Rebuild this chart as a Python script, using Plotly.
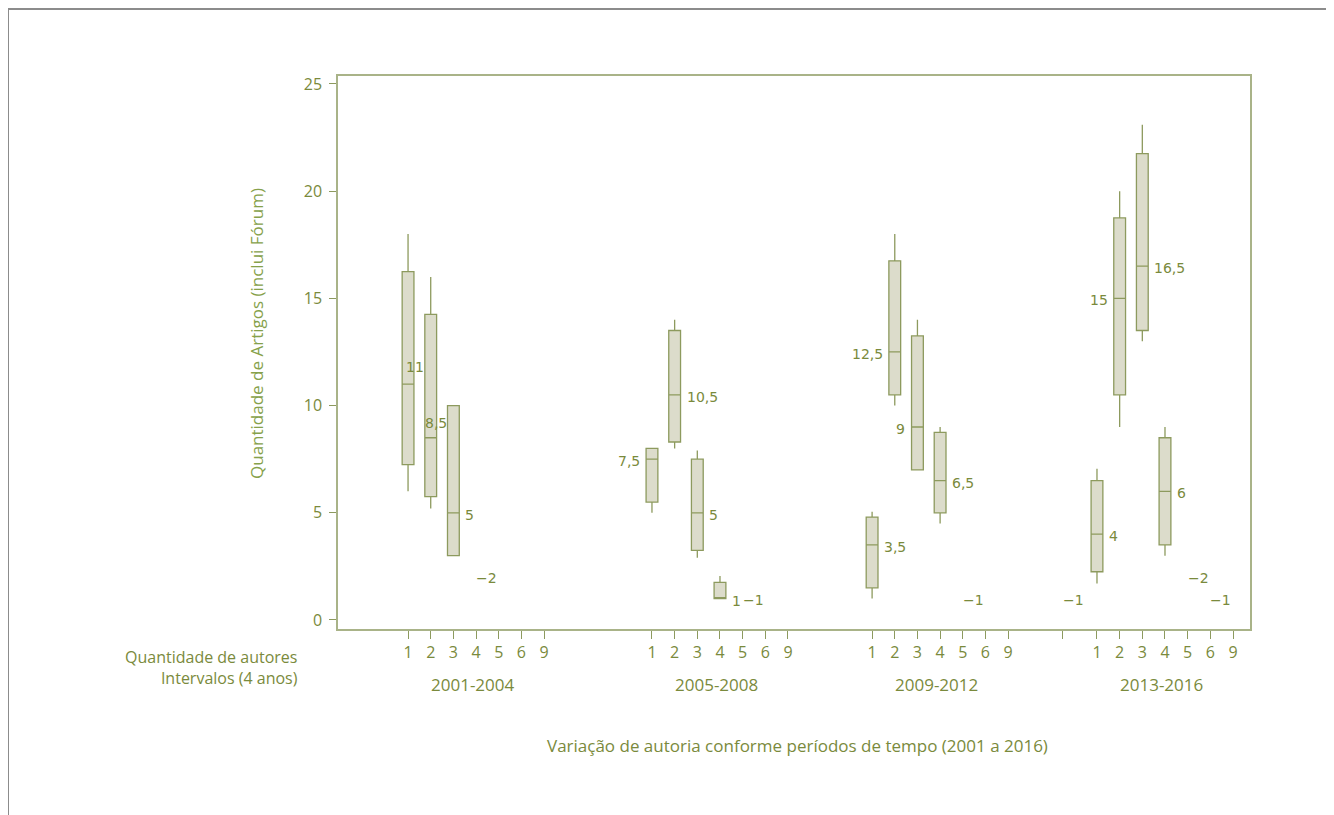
import plotly.graph_objects as go

# ---------------- data ----------------
periods = ["2001-2004", "2005-2008", "2009-2012", "2013-2016"]
autor_ticks = ["1", "2", "3", "4", "5", "6", "9"]

# box statistics per period: autores, lower whisker, q1, median, q3, upper whisker
p1_autores = ["1", "2", "3"]
p1_low = [6, 5.2, 3]
p1_q1 = [7.25, 5.75, 3]
p1_med = [11, 8.5, 5]
p1_q3 = [16.25, 14.25, 10]
p1_high = [18, 16, 10]

p2_autores = ["1", "2", "3", "4"]
p2_low = [5, 8, 2.9, 1]
p2_q1 = [5.5, 8.3, 3.25, 1]
p2_med = [7.5, 10.5, 5, 1]
p2_q3 = [8, 13.5, 7.5, 1.75]
p2_high = [8, 14, 7.9, 2.05]

p3_autores = ["1", "2", "3", "4"]
p3_low = [1, 10, 7, 4.5]
p3_q1 = [1.5, 10.5, 7, 5]
p3_med = [3.5, 12.5, 9, 6.5]
p3_q3 = [4.8, 16.75, 13.25, 8.75]
p3_high = [5.05, 18, 14, 9]

p4_autores = ["1", "2", "3", "4"]
p4_low = [1.7, 9, 13, 3]
p4_q1 = [2.25, 10.5, 13.5, 3.5]
p4_med = [4, 15, 16.5, 6]
p4_q3 = [6.5, 18.75, 21.75, 8.5]
p4_high = [7.05, 20, 23.1, 9]

# single observations (drawn as "−n")
p1_single_autores = ["4"]
p1_single_vals = [2]
p2_single_autores = ["5"]
p2_single_vals = [1]
p3_single_autores = ["5"]
p3_single_vals = [1]
p4_single_autores = ["", "5", "6"]
p4_single_vals = [1, 2, 1]

# label side per box (style)
p1_label_side = ["above", "above2", "right"]
p2_label_side = ["left", "right", "right", "right"]
p3_label_side = ["right", "left", "left", "right"]
p4_label_side = ["right", "left", "right", "right"]

# ---------------- layout constants ----------------
group_starts = [3.09, 13.85, 23.56, 33.48]
X_MAX = 40.23
TXT = "#7a8a3c"
TITLE_GREEN = "#86a14a"
BOX_FILL = "#dcdccb"
BOX_LINE = "#8d9a5e"
AXIS_LINE = "#a9b388"
FONT = "Open Sans"
FS = 17


def slot(label):
    if label == "":
        return -1.5
    return autor_ticks.index(label)


def fmt(v):
    if float(v).is_integer():
        return str(int(v))
    return str(v).replace(".", ",")


groups = [
    (p1_autores, p1_low, p1_q1, p1_med, p1_q3, p1_high, p1_single_autores, p1_single_vals, p1_label_side),
    (p2_autores, p2_low, p2_q1, p2_med, p2_q3, p2_high, p2_single_autores, p2_single_vals, p2_label_side),
    (p3_autores, p3_low, p3_q1, p3_med, p3_q3, p3_high, p3_single_autores, p3_single_vals, p3_label_side),
    (p4_autores, p4_low, p4_q1, p4_med, p4_q3, p4_high, p4_single_autores, p4_single_vals, p4_label_side),
]

fig = go.Figure()
annotations = []
tickvals = []
ticktext = []

for gi, (aut, low, q1, med, q3, high, s_aut, s_val, sides) in enumerate(groups):
    g0 = group_starts[gi]
    xs = [g0 + slot(a) for a in aut]
    fig.add_trace(go.Box(
        x=xs, q1=q1, median=med, q3=q3, lowerfence=low, upperfence=high,
        width=0.52, whiskerwidth=0, boxpoints=False,
        fillcolor=BOX_FILL, line=dict(color=BOX_LINE, width=1.3),
        hoverinfo="skip", showlegend=False,
    ))
    for x, m, side in zip(xs, med, sides):
        a = dict(x=x, y=m, xref="x", yref="y", text=fmt(m), showarrow=False,
                 font=dict(family="DejaVu Sans", size=14, color=TXT))
        if side == "right":
            a.update(xanchor="left", xshift=10, yshift=-2)
        elif side == "left":
            a.update(xanchor="right", xshift=-10, yshift=-2)
        elif side == "above":
            a.update(xanchor="center", xshift=7, yshift=17)
        else:
            a.update(xanchor="center", xshift=5, yshift=15)
        annotations.append(a)
    for a_lab, v in zip(s_aut, s_val):
        annotations.append(dict(x=g0 + slot(a_lab), y=v, xref="x", yref="y",
                                text="\u2212" + fmt(v), showarrow=False,
                                xanchor="left", xshift=-2, yshift=-1,
                                font=dict(family="DejaVu Sans", size=14, color=TXT)))
    # ticks
    if gi == 3:
        tickvals.append(g0 + slot(""))
        ticktext.append("")
    for t in autor_ticks:
        tickvals.append(g0 + slot(t))
        ticktext.append(t)
    # period label
    annotations.append(dict(x=g0 + 2.85, y=(629 - 684) / 553, xref="x", yref="paper",
                            text=periods[gi], showarrow=False, xanchor="center",
                            yanchor="middle",
                            font=dict(family=FONT, size=FS, color=TXT)))

# left labels (two lines, right aligned)
annotations.append(dict(x=(300 - 338) / 912, y=(629 - 667) / 553, xref="paper", yref="paper",
                        text="Quantidade de autores<br>Intervalos (4 anos)", align="right",
                        showarrow=False, xanchor="right", yanchor="middle",
                        font=dict(family=FONT, size=16, color=TXT)))
# axis titles
annotations.append(dict(x=(797 - 338) / 912, y=(629 - 745) / 553, xref="paper", yref="paper",
                        text="Variação de autoria conforme períodos de tempo (2001 a 2016)",
                        showarrow=False, xanchor="center", yanchor="middle",
                        font=dict(family=FONT, size=FS, color=TXT)))
annotations.append(dict(x=(256 - 338) / 912, y=(629 - 334) / 553, xref="paper", yref="paper",
                        text="Quantidade de Artigos (inclui Fórum)", textangle=-90,
                        showarrow=False, xanchor="center", yanchor="middle",
                        font=dict(family=FONT, size=FS, color=TITLE_GREEN)))

# figure border (coords relative to plot area in page pixels)
shapes = [
    dict(type="line", xref="paper", yref="paper", x0=(8 - 338) / 912, x1=(8 - 338) / 912,
         y0=(629 - 9) / 553, y1=(629 - 815) / 553, line=dict(color="#8c8c8c", width=2)),
    dict(type="line", xref="paper", yref="paper", x0=(8 - 338) / 912, x1=(1334 - 338) / 912,
         y0=(629 - 9) / 553, y1=(629 - 9) / 553, line=dict(color="#8c8c8c", width=2)),
]

fig.update_layout(
    width=1326, height=807,
    margin=dict(l=330, r=84, t=68, b=186),
    paper_bgcolor="white", plot_bgcolor="white",
    font=dict(family=FONT, size=FS, color=TXT),
    annotations=annotations, shapes=shapes,
    xaxis=dict(range=[0, X_MAX], tickmode="array", tickvals=tickvals, ticktext=ticktext,
               showgrid=False, zeroline=False, showline=True, mirror=True,
               linecolor=AXIS_LINE, linewidth=1.5, ticks="outside", ticklen=8,
               tickcolor=BOX_LINE, tickwidth=1.2,
               tickfont=dict(family=FONT, size=16, color=TXT)),
    yaxis=dict(range=[-0.42, 25.37], tickmode="array", tickvals=[0, 5, 10, 15, 20, 25],
               showgrid=False, zeroline=False, showline=True, mirror=True,
               linecolor=AXIS_LINE, linewidth=1.5, ticks="outside", ticklen=7,
               tickcolor=BOX_LINE, tickwidth=1.2, ticklabelstandoff=4,
               tickfont=dict(family=FONT, size=16, color=TXT)),
)

fig.write_html("out.html")
